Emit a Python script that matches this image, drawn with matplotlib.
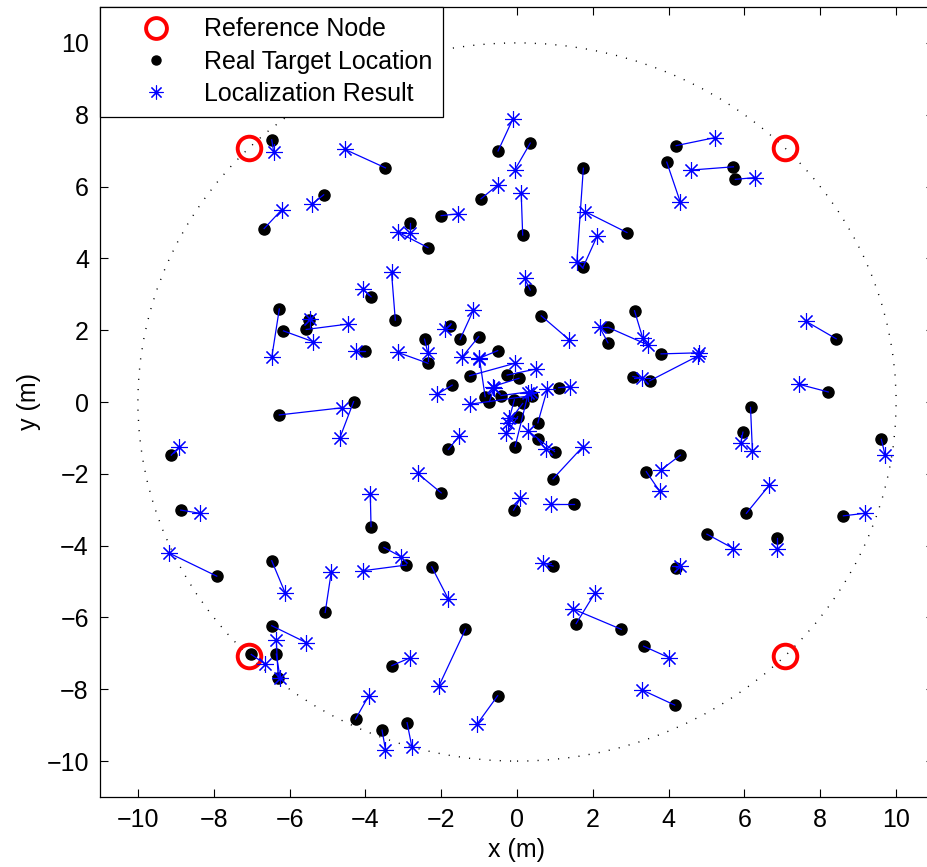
import matplotlib
matplotlib.use('Agg')
import matplotlib.pyplot as plt
from matplotlib.patches import Circle
from matplotlib.lines import Line2D

plt.rcParams['font.family'] = ['Liberation Sans', 'DejaVu Sans']

# reference nodes (corners of the square inside the 10 m circle)
ref_x = [-7.07, 7.07, -7.07, 7.07]
ref_y = [7.07, 7.07, -7.07, -7.07]
radius = 10

# real target locations
real_x = [-6.47, -3.47, -5.10, -6.67, -3.85, -6.27, -5.50, -5.56, -6.16, -4.02,
          -0.50, 0.35, -0.95, 0.15, -2.00, -2.81, -2.35, 1.75, 2.90, 1.75,
          -3.21, 0.35, 0.64, 3.10, 2.40, 2.40, 4.20, 3.95, 5.71, 5.76,
          8.42, 3.80, 3.50, 3.06, 8.21, -1.76, -1.50, -2.44, -2.35, -1.01,
          -0.51, -1.25, -0.26, 0.05, -0.84, -0.73, -0.42, 1.10, 0.55, -0.07,
          0.15, 0.02, -0.05, 0.55, 0.99, -1.71, -1.81, 0.39, 0.95, -2.00,
          -0.09, 1.50, -3.85, -3.51, -2.92, -2.25, 0.95, 6.16, 5.96, 4.31,
          3.41, 6.05, 9.61, 8.61, 5.01, 6.86, 4.20, -6.27, -4.31, -9.12,
          -8.87, -7.92, -6.47, -5.06, -6.47, -7.01, -6.35, -6.30, -4.26, -3.56,
          -1.36, -3.30, -0.51, -2.90, 2.75, 1.56, 3.34, 4.16]
real_y = [7.30, 6.52, 5.77, 4.83, 2.93, 2.59, 2.27, 2.02, 1.98, 1.43,
          6.99, 7.21, 5.66, 4.65, 5.19, 4.99, 4.30, 6.51, 4.72, 3.77,
          2.28, 3.12, 2.40, 2.54, 2.08, 1.65, 7.14, 6.68, 6.55, 6.20,
          1.76, 1.34, 0.59, 0.71, 0.28, 2.13, 1.75, 1.75, 1.08, 1.82,
          1.43, 0.73, 0.75, 0.66, 0.15, 0.01, 0.18, 0.40, -0.58, 0.06,
          -0.04, -0.41, -1.24, -1.04, -1.38, 0.47, -1.32, 0.18, -2.14, -2.53,
          -3.01, -2.84, -3.47, -4.05, -4.54, -4.59, -4.57, -0.15, -0.84, -1.48,
          -1.94, -3.10, -1.04, -3.17, -3.68, -3.80, -4.62, -0.36, 0.01, -1.48,
          -3.01, -4.85, -4.42, -5.86, -6.23, -7.03, -7.02, -7.68, -8.83, -9.14,
          -6.33, -7.34, -8.18, -8.93, -6.33, -6.17, -6.80, -8.44]

# localization results
est_x = [-6.42, -4.55, -5.41, -6.21, -4.07, -6.47, -5.45, -4.46, -5.38, -4.26,
         -0.11, -0.06, -0.51, 0.11, -1.56, -2.81, -3.14, 1.58, 1.80, 2.11,
         -3.31, 0.20, 1.37, 3.32, 3.45, 2.18, 5.21, 4.31, 4.60, 6.27,
         7.62, 4.80, 4.77, 3.30, 7.45, -1.91, -1.15, -2.35, -3.14, -1.45,
         -0.99, -0.05, 0.51, -0.64, -0.99, -0.60, 0.36, 1.39, 0.80, -0.20,
         -0.24, -0.28, 0.30, 0.77, 0.30, -2.11, -1.52, -1.23, 1.74, -2.62,
         0.09, 0.90, -3.87, -3.06, -4.07, -1.81, 0.68, 6.21, 5.90, 3.80,
         3.76, 6.66, 9.71, 9.17, 5.71, 6.86, 4.29, -4.61, -4.67, -8.92,
         -8.36, -9.17, -6.11, -4.90, -5.56, -6.64, -6.25, -6.35, -3.91, -3.47,
         -2.06, -2.81, -1.06, -2.77, 1.49, 2.05, 4.01, 3.30]
est_y = [6.97, 7.04, 5.51, 5.35, 3.14, 1.24, 2.30, 2.17, 1.68, 1.43,
         7.88, 6.46, 6.04, 5.83, 5.24, 4.72, 4.73, 3.91, 5.30, 4.61,
         3.61, 3.44, 1.74, 1.77, 1.59, 2.08, 7.36, 5.56, 6.46, 6.25,
         2.25, 1.37, 1.28, 0.66, 0.49, 2.02, 2.56, 1.36, 1.38, 1.25,
         1.22, 1.08, 0.92, 0.43, 1.20, 0.40, 0.29, 0.43, 0.36, -0.45,
         -0.59, -0.87, 0.25, -1.32, -0.81, 0.21, -0.94, -0.06, -1.24, -1.99,
         -2.68, -2.84, -2.57, -4.31, -4.70, -5.49, -4.48, -1.36, -1.15, -1.89,
         -2.48, -2.31, -1.48, -3.10, -4.08, -4.08, -4.57, -0.16, -0.99, -1.26,
         -3.10, -4.21, -5.33, -4.74, -6.70, -7.30, -7.68, -6.63, -8.18, -9.68,
         -7.91, -7.12, -8.98, -9.62, -5.77, -5.33, -7.12, -8.02]

W, H = 927, 867
fig = plt.figure(figsize=(W / 100, H / 100), dpi=100)
ax = fig.add_axes([100 / W, 70 / H, 834 / W, 790 / H])

ax.add_patch(Circle((0, 0), radius, fill=False, edgecolor='black',
                    linewidth=1.0, linestyle=(0, (0.8, 6.6))))

# error lines
for rx, ry, ex, ey in zip(real_x, real_y, est_x, est_y):
    ax.plot([rx, ex], [ry, ey], color='blue', linewidth=0.9, zorder=4)

ax.plot(ref_x, ref_y, linestyle='none', marker='o', markersize=17,
        markerfacecolor='none', markeredgecolor='red', markeredgewidth=2.8, zorder=3)
ax.plot(real_x, real_y, linestyle='none', marker='o', markersize=8,
        color='black', zorder=3)
ax.plot(est_x, est_y, linestyle='none', marker=(8, 2, 0), markersize=12,
        color='blue', markeredgewidth=0.8, zorder=5)

ax.set_xlim(-11, 11)
ax.set_ylim(-11, 11)
ax.set_xticks(range(-10, 11, 2))
ax.set_yticks(range(-10, 11, 2))
ax.tick_params(direction='in', length=6, width=0.8, labelsize=18,
               top=True, right=True, pad=8)
for s in ax.spines.values():
    s.set_linewidth(0.9)
ax.set_xlabel('x (m)', fontsize=18, labelpad=4)
ax.set_ylabel('y (m)', fontsize=18, labelpad=4)

handles = [
    Line2D([], [], linestyle='none', marker='o', markersize=15,
           markerfacecolor='none', markeredgecolor='red', markeredgewidth=2.8),
    Line2D([], [], linestyle='none', marker='o', markersize=6.5, color='black'),
    Line2D([], [], linestyle='none', marker=(8, 2, 0), markersize=10,
           color='blue', markeredgewidth=0.8),
]
leg = ax.legend(handles, ['Reference Node', 'Real Target Location', 'Localization Result'],
                loc='upper left', borderaxespad=0, fontsize=18, frameon=True,
                fancybox=False, edgecolor='black', framealpha=1,
                handlelength=3.6, handletextpad=0.15, labelspacing=0.33, borderpad=0.42)
leg.get_frame().set_linewidth(0.9)

fig.savefig('out.png', dpi=100)
